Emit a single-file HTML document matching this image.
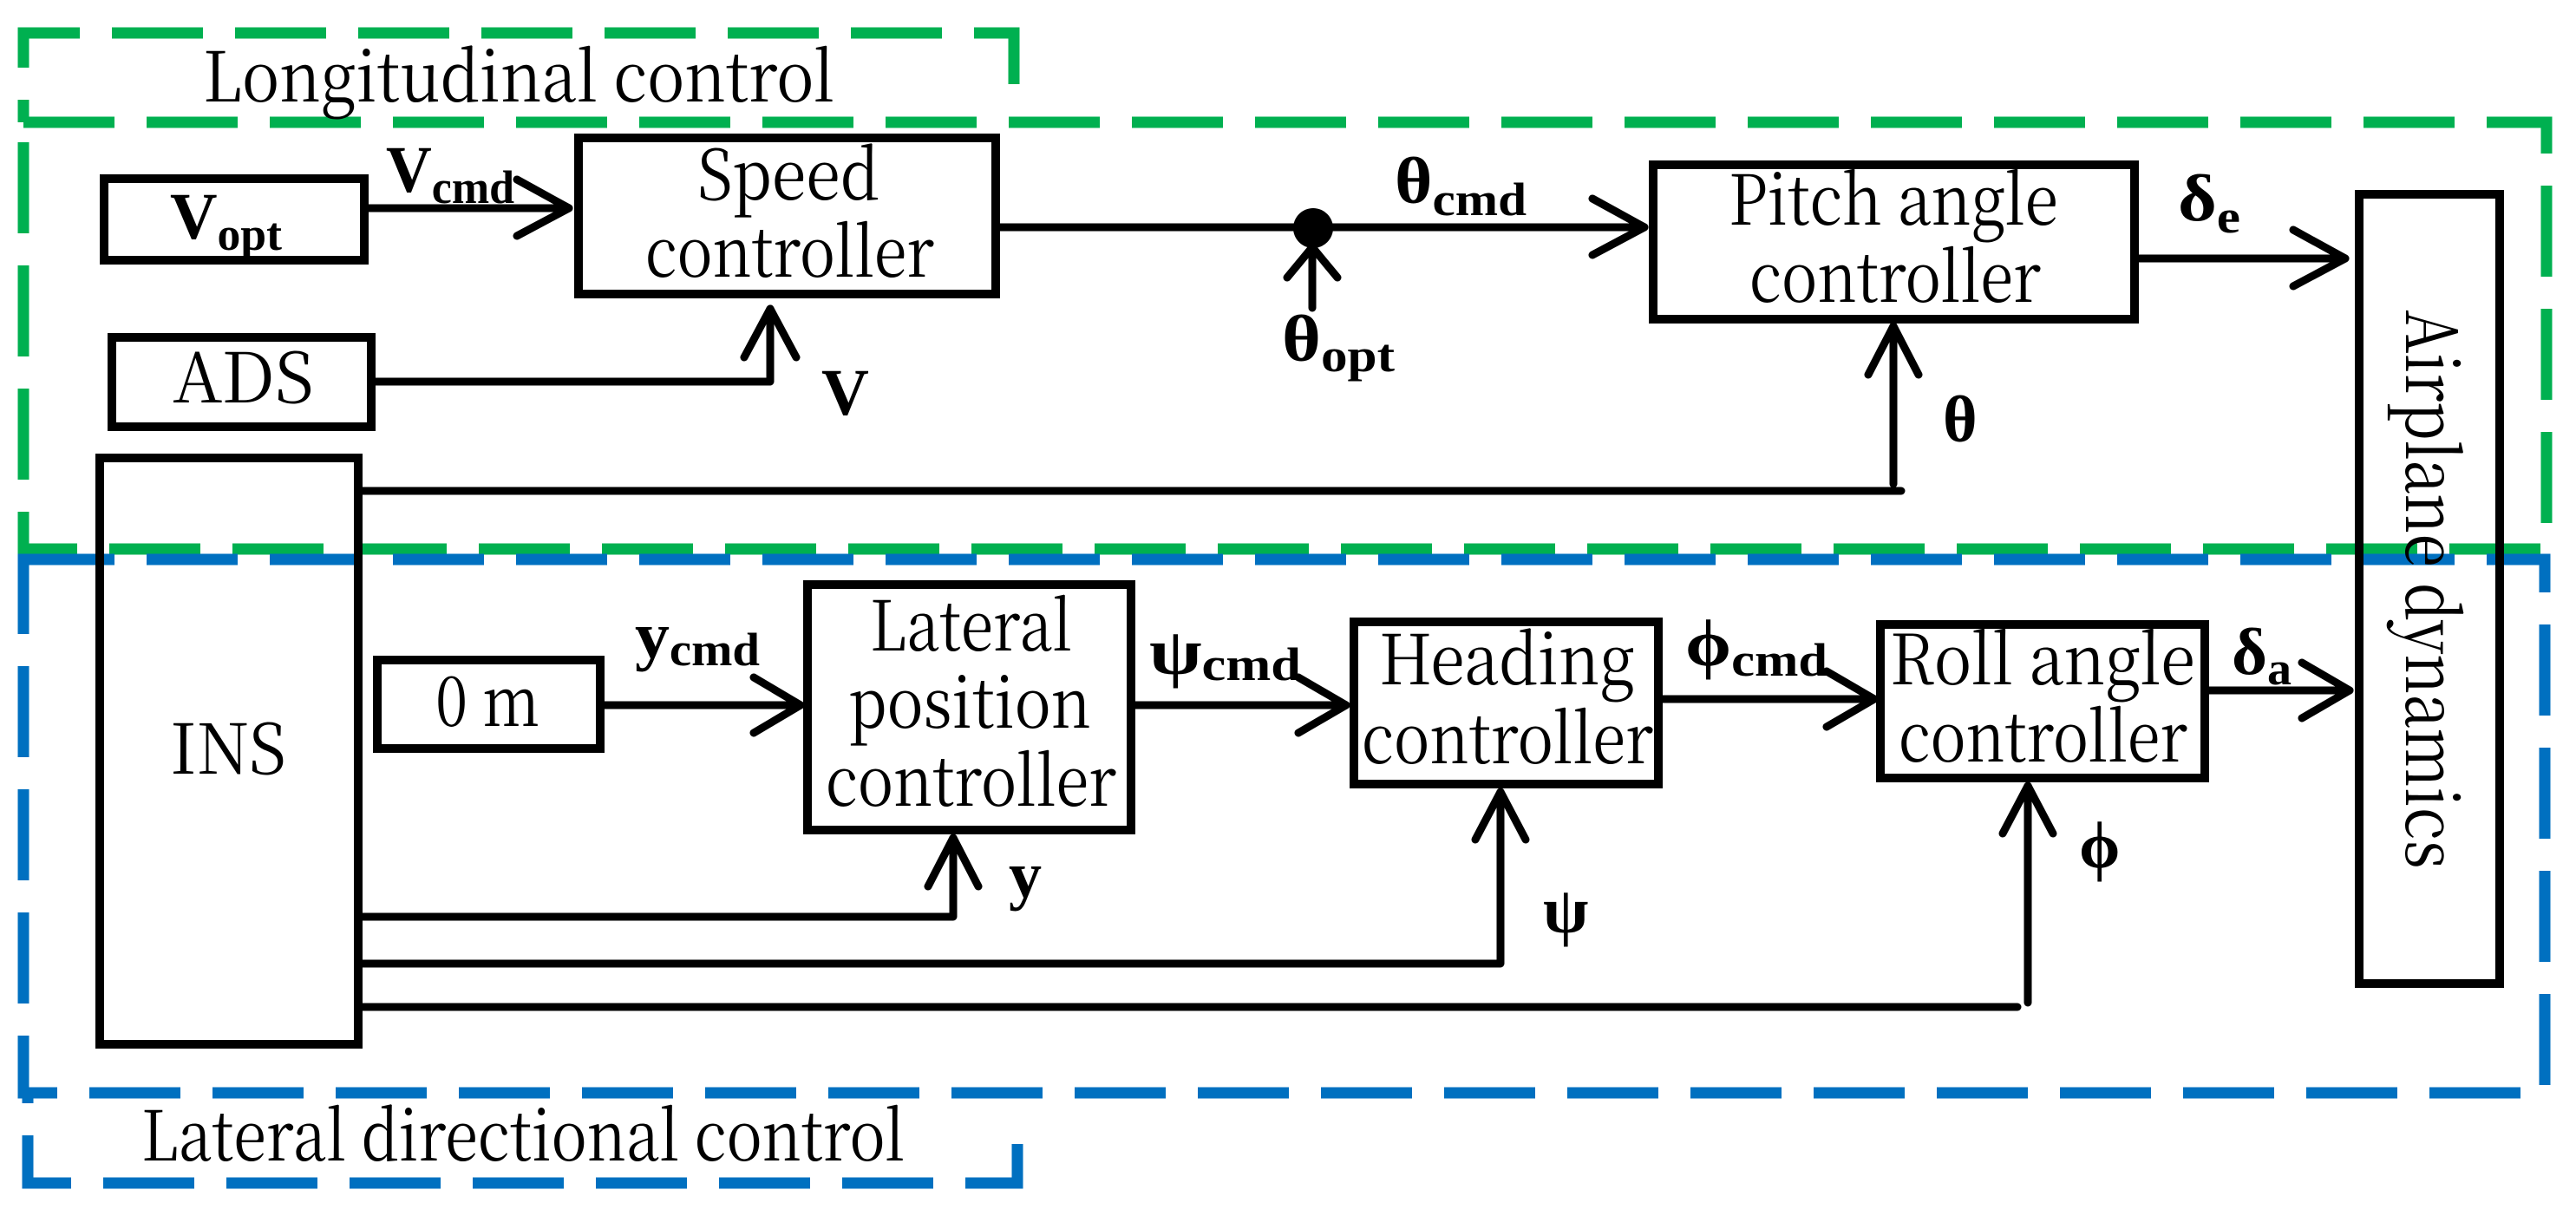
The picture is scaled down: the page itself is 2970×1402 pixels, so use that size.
<!DOCTYPE html>
<html><head><meta charset="utf-8"><style>
html,body{margin:0;padding:0;background:#fff;}
svg{display:block;}
text{font-family:"Liberation Serif","Noto Serif CJK SC","DejaVu Serif",serif;}
.r text{font-family:"Noto Serif CJK SC","Liberation Serif","DejaVu Serif",serif;}
</style></head><body>
<svg width="2970" height="1402" viewBox="0 0 2970 1402" xmlns="http://www.w3.org/2000/svg">
<g fill="none" stroke-width="13" stroke-dasharray="105 37">
<polyline stroke="#00B050" points="1169,97 1169,38 27,38 27,141"/>
<rect stroke="#00B050" x="27" y="141" width="2909" height="492"/>
<rect stroke="#0070C0" x="27" y="645" width="2907" height="615"/>
<polyline stroke="#0070C0" points="1173,1319 1173,1364 32,1364 32,1260"/>
</g>
<g fill="none" stroke="#000" stroke-width="10">
<rect x="120" y="206" width="300" height="94"/>
<rect x="667" y="159" width="481" height="180"/>
<rect x="129" y="389" width="299" height="103"/>
<rect x="115" y="528" width="298" height="676"/>
<rect x="1906" y="190" width="555" height="178"/>
<rect x="2720" y="224" width="162" height="910"/>
<rect x="435" y="761" width="257" height="102"/>
<rect x="931" y="674" width="373" height="283"/>
<rect x="1561" y="717" width="351" height="187"/>
<rect x="2168" y="720" width="374" height="177"/>
</g>
<g fill="none" stroke="#000" stroke-width="9" stroke-linecap="round" stroke-linejoin="round">
<line x1="425" y1="240" x2="656" y2="240"/><polyline points="596,207 656,240 596,272"/>
<polyline points="433,440 888,440 888,356"/><polyline points="858,412 888,356 918,412"/>
<line x1="1153" y1="262" x2="1896" y2="262"/><polyline points="1836,229 1896,262 1836,294"/>
<line x1="1513" y1="355" x2="1513" y2="285"/><polyline points="1484,320 1513,285 1542,320"/>
<line x1="2466" y1="298" x2="2704" y2="298"/><polyline points="2644,265 2704,298 2644,330"/>
<polyline points="418,566 2192,566"/><line x1="2183" y1="558" x2="2183" y2="376"/><polyline points="2154,432 2183,376 2212,432"/>
<line x1="697" y1="813" x2="923" y2="813"/><polyline points="869,781 923,813 869,845"/>
<line x1="1309" y1="813" x2="1552" y2="813"/><polyline points="1497,781 1552,813 1497,845"/>
<line x1="1917" y1="806" x2="2161" y2="806"/><polyline points="2106,774 2161,806 2106,838"/>
<line x1="2547" y1="796" x2="2709" y2="796"/><polyline points="2654,764 2709,796 2654,828"/>
<polyline points="418,1057 1099,1057 1099,966"/><polyline points="1070,1022 1099,966 1128,1022"/>
<polyline points="418,1111 1730,1111 1730,913"/><polyline points="1701,968 1730,913 1759,968"/>
<polyline points="418,1161 2326,1161"/><line x1="2338" y1="1156" x2="2338" y2="906"/><polyline points="2309,961 2338,906 2367,961"/>
</g>
<circle cx="1514" cy="263" r="23" fill="#000"/>
<g class="r" fill="#000" font-weight="normal">
<text x="234" y="117" font-size="80" textLength="728" lengthAdjust="spacingAndGlyphs">Longitudinal  control</text>
<text x="163" y="1338" font-size="80" textLength="880" lengthAdjust="spacingAndGlyphs">Lateral directional control</text>
<text x="804" y="230" font-size="80" textLength="210" lengthAdjust="spacingAndGlyphs">Speed</text>
<text x="744" y="319" font-size="80" textLength="333" lengthAdjust="spacingAndGlyphs">controller</text>
<text x="199" y="464" font-size="80" textLength="163" lengthAdjust="spacingAndGlyphs">ADS</text>
<text x="1993" y="259" font-size="80" textLength="380" lengthAdjust="spacingAndGlyphs">Pitch angle</text>
<text x="2017" y="348" font-size="80" textLength="336" lengthAdjust="spacingAndGlyphs">controller</text>
<text x="2774" y="357" font-size="82" transform="rotate(90 2774 357)" textLength="645" lengthAdjust="spacingAndGlyphs">Airplane dynamics</text>
<text x="196" y="892" font-size="80" textLength="134" lengthAdjust="spacingAndGlyphs">INS</text>
<text x="502" y="837" font-size="80" textLength="120" lengthAdjust="spacingAndGlyphs">0 m</text>
<text x="1003" y="750" font-size="80" textLength="233" lengthAdjust="spacingAndGlyphs">Lateral</text>
<text x="978" y="839" font-size="80" textLength="280" lengthAdjust="spacingAndGlyphs">position</text>
<text x="952" y="929" font-size="80" textLength="335" lengthAdjust="spacingAndGlyphs">controller</text>
<text x="1590" y="789" font-size="80" textLength="295" lengthAdjust="spacingAndGlyphs">Heading</text>
<text x="1570" y="880" font-size="80" textLength="336" lengthAdjust="spacingAndGlyphs">controller</text>
<text x="2179" y="789" font-size="80" textLength="352" lengthAdjust="spacingAndGlyphs">Roll angle</text>
<text x="2189" y="878" font-size="80" textLength="333" lengthAdjust="spacingAndGlyphs">controller</text>
</g>
<g fill="#000" font-weight="bold">
<text x="196" y="275" font-size="76" textLength="129" lengthAdjust="spacingAndGlyphs">V<tspan font-size="54" dy="13">opt</tspan></text>
<text x="445" y="221" font-size="76" textLength="148" lengthAdjust="spacingAndGlyphs">V<tspan font-size="54" dy="13">cmd</tspan></text>
<text x="947" y="478" font-size="76">V</text>
<text x="1608" y="234" font-size="76" textLength="152" lengthAdjust="spacingAndGlyphs">θ<tspan font-size="54" dy="14">cmd</tspan></text>
<text x="1478" y="416" font-size="76" textLength="130" lengthAdjust="spacingAndGlyphs">θ<tspan font-size="54" dy="12">opt</tspan></text>
<text x="2511" y="254" font-size="76" textLength="72" lengthAdjust="spacingAndGlyphs">δ<tspan font-size="54" dy="14">e</tspan></text>
<text x="2240" y="509" font-size="76">θ</text>
<text x="732" y="758" font-size="76" textLength="144" lengthAdjust="spacingAndGlyphs">y<tspan font-size="54" dy="9">cmd</tspan></text>
<text x="1163" y="1034" font-size="76">y</text>
<text x="1325" y="777" font-size="76" textLength="175" lengthAdjust="spacingAndGlyphs">ψ<tspan font-size="54" dy="7">cmd</tspan></text>
<text x="1943" y="767" font-size="76" textLength="164" lengthAdjust="spacingAndGlyphs">ϕ<tspan font-size="54" dy="12">cmd</tspan></text>
<text x="2573" y="777" font-size="76" textLength="69" lengthAdjust="spacingAndGlyphs">δ<tspan font-size="54" dy="12">a</tspan></text>
<text x="1779" y="1075" font-size="76">ψ</text>
<text x="2397" y="1000" font-size="76">ϕ</text>
</g>
</svg>
</body></html>
